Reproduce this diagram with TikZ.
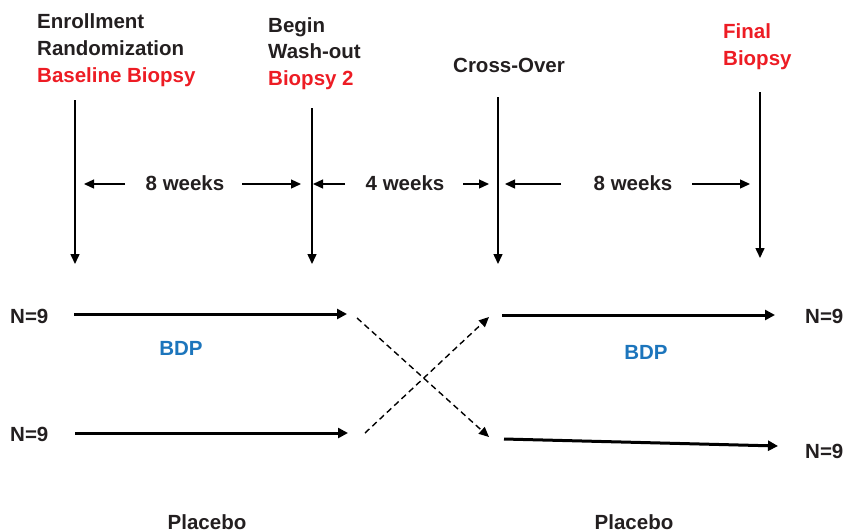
\documentclass[tikz,border=0pt]{standalone}
\usepackage{fontspec}
\setmainfont{Liberation Sans}
\usetikzlibrary{arrows.meta}
\definecolor{txt}{RGB}{35,31,32}
\definecolor{rd}{RGB}{237,28,36}
\definecolor{bl}{RGB}{28,117,188}
\tikzset{
  lbl/.style={inner sep=0pt, text=txt, font=\fontsize{20.5}{24}\selectfont\bfseries},
  redlbl/.style={lbl, text=rd},
  bluelbl/.style={lbl, text=bl},
  vline/.style={draw=black, line width=1.5pt, -{Triangle[length=10pt,width=9pt]}},
  span/.style={draw=black, line width=1.3pt, -{Triangle[length=10pt,width=9pt]}},
  arm/.style={draw=black, line width=3pt, -{Triangle[length=10pt,width=10pt]}},
  cross/.style={draw=black, line width=1.4pt, dash pattern=on 6pt off 4pt, -{Triangle[length=10pt,width=9pt]}}
}
\begin{document}
\begin{tikzpicture}[x=1pt,y=-1pt]
\useasboundingbox (0,0) rectangle (843,531);
% top labels
\node[lbl, anchor=base west] (enr) at (37,28) {Enrollment};
\node[lbl, anchor=base west] (rnd) at (37,55) {Randomization};
\node[redlbl, anchor=base west] (bb) at (37,82) {Baseline Biopsy};
\node[lbl, anchor=base west] (beg) at (268,32) {Begin};
\node[lbl, anchor=base west] (wash) at (268,58) {Wash-out};
\node[redlbl, anchor=base west] (b2) at (268,85) {Biopsy 2};
\node[lbl, anchor=base west] (co) at (453,72) {Cross-Over};
\node[redlbl, anchor=base west] (fin) at (723,38) {Final};
\node[redlbl, anchor=base west] (fb) at (723,65) {Biopsy};
% vertical arrows
\coordinate (v1a) at (75,100);  \coordinate (v1b) at (75,264);
\coordinate (v2a) at (312,108); \coordinate (v2b) at (312,264);
\coordinate (v3a) at (498,97);  \coordinate (v3b) at (498,264);
\coordinate (v4a) at (760,92);  \coordinate (v4b) at (760,258);
\draw[vline] (v1a) -- (v1b);
\draw[vline] (v2a) -- (v2b);
\draw[vline] (v3a) -- (v3b);
\draw[vline] (v4a) -- (v4b);
% spans
\node[lbl, anchor=base] (w1) at (185,190) {8 weeks};
\node[lbl, anchor=base] (w2) at (405,190) {4 weeks};
\node[lbl, anchor=base] (w3) at (633,190) {8 weeks};
\coordinate (s1a) at (125,184); \coordinate (s1b) at (84,184);
\coordinate (s2a) at (242,184); \coordinate (s2b) at (301,184);
\coordinate (s3a) at (345,184); \coordinate (s3b) at (313,184);
\coordinate (s4a) at (463,184); \coordinate (s4b) at (489,184);
\coordinate (s5a) at (561,184); \coordinate (s5b) at (505,184);
\coordinate (s6a) at (692,184); \coordinate (s6b) at (750,184);
\draw[span] (s1a) -- (s1b);
\draw[span] (s2a) -- (s2b);
\draw[span] (s3a) -- (s3b);
\draw[span] (s4a) -- (s4b);
\draw[span] (s5a) -- (s5b);
\draw[span] (s6a) -- (s6b);
% arms
\node[lbl, anchor=base west] (n1) at (10,323) {N=9};
\node[lbl, anchor=base west] (n2) at (10,441) {N=9};
\node[lbl, anchor=base west] (n3) at (805,323) {N=9};
\node[lbl, anchor=base west] (n4) at (805,458) {N=9};
\node[bluelbl, anchor=base] (bdp1) at (181,355) {BDP};
\node[bluelbl, anchor=base] (bdp2) at (646,359) {BDP};
\node[lbl, anchor=base] (pl1) at (207,529) {Placebo};
\node[lbl, anchor=base] (pl2) at (634,529) {Placebo};
\coordinate (a1a) at (74,314);  \coordinate (a1b) at (347,314);
\coordinate (a2a) at (75,433);  \coordinate (a2b) at (348,433);
\coordinate (a3a) at (502,315); \coordinate (a3b) at (775,315);
\coordinate (a4a) at (504,439); \coordinate (a4b) at (778,446);
\draw[arm] (a1a) -- (a1b);
\draw[arm] (a2a) -- (a2b);
\draw[arm] (a3a) -- (a3b);
\draw[arm] (a4a) -- (a4b);
% cross-over dashed
\coordinate (c1a) at (357,318); \coordinate (c1b) at (489,437);
\coordinate (c2a) at (365,433); \coordinate (c2b) at (489,317);
\draw[cross] (c1a) -- (c1b);
\draw[cross] (c2a) -- (c2b);
\end{tikzpicture}
\end{document}
